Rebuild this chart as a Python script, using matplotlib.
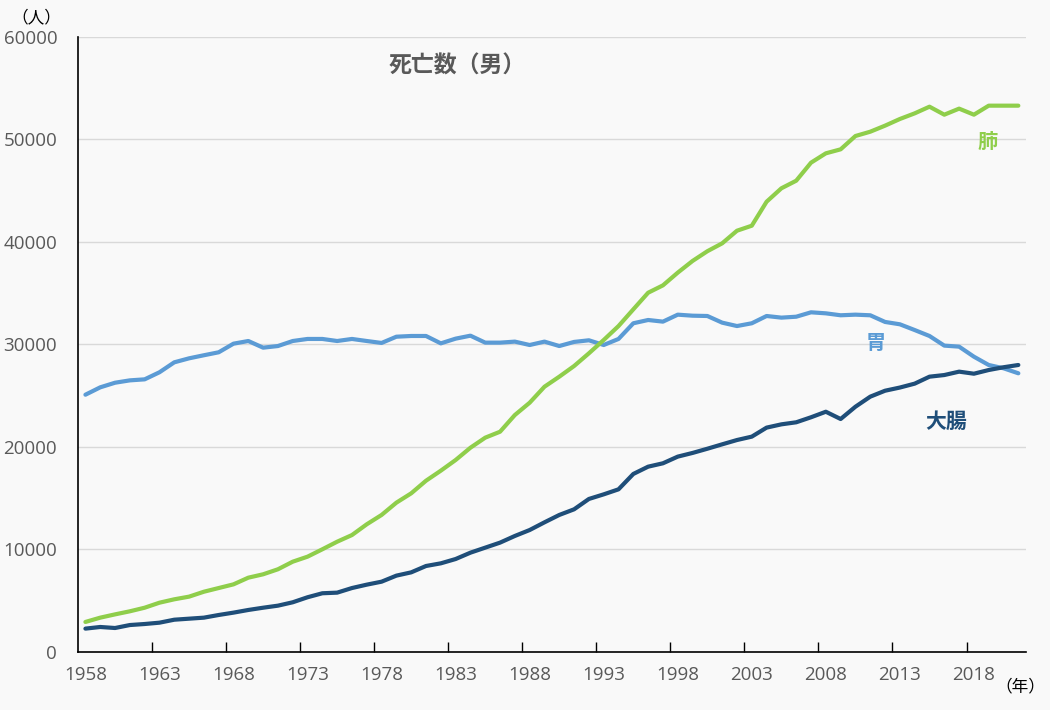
import matplotlib.pyplot as plt
import numpy as np

# 死亡数（男） 1958-2021
years = list(range(1958, 2022))

lung = [2930, 3350, 3670, 3970, 4320, 4810, 5140, 5400, 5880, 6240,
        6600, 7250, 7580, 8070, 8810, 9300, 10020, 10760, 11410, 12460,
        13370, 14570, 15480, 16710, 17690, 18730, 19930, 20910, 21490, 23120,
        24320, 25880, 26860, 27900, 29140, 30440, 31800, 33430, 35050, 35770,
        37010, 38150, 39100, 39870, 41100, 41590, 43930, 45240, 45980, 47740,
        48650, 49040, 50340, 50760, 51350, 52000, 52550, 53200, 52420, 53010,
        52420, 53300, 53300, 53300]

stomach = [25100, 25820, 26270, 26500, 26600, 27290, 28260, 28650, 28950, 29240,
           30080, 30340, 29690, 29850, 30340, 30540, 30540, 30340, 30540, 30340,
           30150, 30760, 30830, 30830, 30110, 30570, 30860, 30180, 30180, 30280,
           29950, 30280, 29850, 30250, 30410, 29950, 30540, 32070, 32390, 32230,
           32910, 32810, 32780, 32130, 31800, 32070, 32780, 32620, 32710, 33140,
           33040, 32850, 32910, 32850, 32200, 31970, 31410, 30830, 29890, 29790,
           28810, 28000, 27680, 27190]

colon = [2280, 2440, 2340, 2630, 2730, 2860, 3150, 3250, 3350, 3610,
         3840, 4100, 4320, 4520, 4850, 5340, 5730, 5790, 6240, 6570,
         6860, 7450, 7770, 8390, 8650, 9070, 9690, 10180, 10670, 11320,
         11900, 12650, 13370, 13920, 14930, 15380, 15870, 17370, 18080, 18410,
         19060, 19420, 19830, 20260, 20680, 21010, 21890, 22210, 22410, 22900,
         23440, 22730, 23930, 24910, 25490, 25800, 26180, 26860, 27020, 27350,
         27150, 27510, 27780, 28000]

c_lung = '#8fce4b'
c_stomach = '#5b9bd5'
c_colon = '#1f4e79'
c_text = '#595959'
bg = '#f9f9f9'

fam = ['Open Sans', 'Noto Sans CJK JP', 'DejaVu Sans']
plt.rcParams['font.family'] = fam

fig = plt.figure(figsize=(10.5, 7.1), dpi=100, facecolor=bg)
ax = fig.add_axes([0.0743, 0.0817, 0.9026, 0.8662], facecolor=bg)

x = np.arange(len(years))
ax.plot(x, stomach, color=c_stomach, lw=3, solid_capstyle='round', zorder=3)
ax.plot(x, lung, color=c_lung, lw=3, solid_capstyle='round', zorder=3)
ax.plot(x, colon, color=c_colon, lw=3, solid_capstyle='round', zorder=4)

ax.set_xlim(-0.5, len(years) - 0.5)
ax.set_ylim(0, 60000)
ax.set_yticks(range(0, 60001, 10000))
ax.yaxis.grid(True, color='#d9d9d9', lw=1)
ax.set_axisbelow(True)

label_idx = list(range(0, len(years), 5))
ax.set_xticks(label_idx)
ax.set_xticklabels([str(years[i]) for i in label_idx])
ax.set_xticks(np.arange(4.5, len(years) - 1, 5), minor=True)
ax.tick_params(axis='x', which='major', length=0, pad=10, labelsize=13.5, labelcolor=c_text)
ax.tick_params(axis='x', which='minor', direction='in', length=7, width=1, color='black')
ax.tick_params(axis='y', length=0, pad=15, labelsize=13.5, labelcolor=c_text)

for s in ['top', 'right']:
    ax.spines[s].set_visible(False)
ax.spines['left'].set_color('black')
ax.spines['bottom'].set_color('black')
ax.spines['left'].set_linewidth(1.2)
ax.spines['bottom'].set_linewidth(1.2)

ax.text(0.40, 0.953, '死亡数（男）', transform=ax.transAxes, ha='center', va='center',
        fontsize=16.5, fontweight='bold', color=c_text, family=['Noto Sans CJK JP'])
ax.text(60.9, 49850, '肺', ha='center', va='center', fontsize=14.5, fontweight='bold',
        color=c_lung, family=['Noto Sans CJK JP'])
ax.text(53.4, 30240, '胃', ha='center', va='center', fontsize=14.5, fontweight='bold',
        color=c_stomach, family=['Noto Sans CJK JP'])
ax.text(58.1, 22540, '大腸', ha='center', va='center', fontsize=15, fontweight='bold',
        color=c_colon, family=['Noto Sans CJK JP'])

fig.text(36 / 1050, 1 - 18 / 710, '（人）', ha='center', va='center', fontsize=12,
         color='black', family=['Noto Sans CJK JP'])
fig.text(1045 / 1050, 1 - 687 / 710, '（年）', ha='right', va='center', fontsize=12,
         color='black', family=['Noto Sans CJK JP'])

fig.savefig('out.png', dpi=100, facecolor=bg)
